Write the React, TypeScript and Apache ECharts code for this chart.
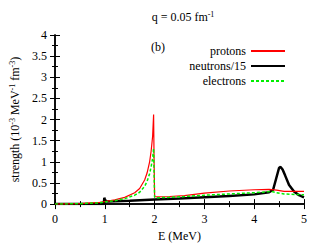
import React, { useEffect, useRef } from "react";
import * as echarts from "echarts";

const xTicks = [0, 1, 2, 3, 4, 5];
const protonsX = [0, 0.5, 0.9, 1.0, 1.2, 1.4, 1.6, 1.7, 1.8, 1.85, 1.9, 1.93, 1.96, 1.98, 1.99, 2.0, 2.05, 2.3, 2.6, 3.0, 3.5, 4.0, 4.3, 4.45, 4.6, 5.0];
const protonsY = [0, 0.01, 0.04, 0.06, 0.1, 0.16, 0.27, 0.37, 0.57, 0.74, 1.0, 1.25, 1.6, 2.12, 1.0, 0.18, 0.17, 0.18, 0.2, 0.26, 0.31, 0.34, 0.35, 0.33, 0.3, 0.3];
const electronsX = [0, 0.5, 0.9, 1.0, 1.2, 1.4, 1.6, 1.7, 1.8, 1.85, 1.9, 1.93, 1.96, 1.98, 1.99, 2.0, 2.05, 2.3, 2.6, 3.0, 3.5, 4.0, 4.35, 4.45, 4.6, 5.0];
const electronsY = [0, 0.01, 0.03, 0.05, 0.08, 0.13, 0.21, 0.28, 0.42, 0.54, 0.72, 0.88, 1.08, 1.32, 0.7, 0.16, 0.15, 0.16, 0.18, 0.21, 0.24, 0.27, 0.3, 0.27, 0.24, 0.22];
const neutronsX = [0, 0.98, 0.99, 1.0, 1.02, 1.05, 1.5, 2.0, 2.5, 3.0, 3.5, 4.0, 4.3, 4.38, 4.44, 4.5, 4.53, 4.57, 4.62, 4.7, 4.8, 4.9, 5.0];
const neutronsY = [0, 0, 0.15, 0.12, 0.07, 0.06, 0.08, 0.11, 0.13, 0.16, 0.19, 0.23, 0.28, 0.34, 0.6, 0.86, 0.88, 0.82, 0.68, 0.45, 0.3, 0.21, 0.16];

const pairs = (xs: number[], ys: number[]) => xs.map((x, i) => [x, ys[i]]);

const FONT = "'Liberation Serif', 'DejaVu Serif', serif";

export default function App() {
  const ref = useRef<HTMLDivElement>(null);
  useEffect(() => {
    const chart = echarts.init(ref.current!, undefined, { renderer: "svg" });
    const tickBase = {
      axisLine: { show: true, lineStyle: { color: "#000", width: 1.5 } },
      axisTick: { show: true, inside: true, length: 5, lineStyle: { color: "#000", width: 1 } },
      minorTick: { show: true, splitNumber: 2, length: 3, lineStyle: { color: "#000", width: 1 } },
      splitLine: { show: false },
    };
    const txt = { fontFamily: FONT, fontSize: 12, color: "#000", fontWeight: "normal" };
    const sup = { fontFamily: FONT, fontSize: 8, color: "#000", fontWeight: "normal", verticalAlign: "top", padding: [0, 0, 6, 0] };
    chart.setOption({
      animation: false,
      backgroundColor: "#fff",
      textStyle: { fontFamily: FONT },
      title: {
        text: "{a|q = 0.05 fm}{s|-1}",
        left: 178,
        top: 5,
        textAlign: "center",
        textStyle: { fontWeight: "normal", fontFamily: FONT, rich: { a: txt, s: sup } },
      },
      grid: { left: 52, right: 23, top: 35, bottom: 40 },
      legend: {
        orient: "vertical",
        right: 36,
        top: 40,
        align: "right",
        itemWidth: 34,
        itemHeight: 10,
        itemGap: 3,
        itemStyle: { opacity: 0 },
        textStyle: txt,
        data: ["protons", "neutrons/15", "electrons"],
      },
      graphic: [
        { type: "text", left: 151, top: 41, style: { text: "(b)", fontFamily: FONT, fontSize: 12, fill: "#000" } },
      ],
      xAxis: [
        {
          type: "value", min: 0, max: 5, interval: 1,
          name: "E (MeV)", nameLocation: "middle", nameGap: 25,
          nameTextStyle: txt,
          axisLabel: { ...txt, margin: 9, formatter: (v: number) => (xTicks.includes(v) ? String(v) : "") },
          ...tickBase,
        },
        {
          type: "value", min: 0, max: 5, interval: 1, position: "top",
          axisLabel: { show: false },
          ...tickBase,
        },
      ],
      yAxis: [
        {
          type: "value", min: 0, max: 4, interval: 0.5,
          name: "{a|strength (10}{s|-3}{a| MeV}{s|-1}{a| fm}{s|-3}{a|)}",
          nameLocation: "middle", nameGap: 33,
          nameTextStyle: { fontFamily: FONT, rich: { a: txt, s: sup } },
          axisLabel: { ...txt, margin: 8 },
          ...tickBase,
        },
        {
          type: "value", min: 0, max: 4, interval: 0.5, position: "right",
          axisLabel: { show: false },
          ...tickBase,
        },
      ],
      series: [
        {
          name: "protons", type: "line", symbol: "none", data: pairs(protonsX, protonsY),
          lineStyle: { color: "#ff0000", width: 1.2 }, itemStyle: { color: "#ff0000" }, z: 3,
        },
        {
          name: "neutrons/15", type: "line", symbol: "none", data: pairs(neutronsX, neutronsY),
          lineStyle: { color: "#000", width: 2.5 }, itemStyle: { color: "#000" }, z: 2,
        },
        {
          name: "electrons", type: "line", symbol: "none", data: pairs(electronsX, electronsY),
          lineStyle: { color: "#00ee00", width: 1.5, type: [3, 2] }, itemStyle: { color: "#00ee00" }, z: 4,
        },
      ],
    });
    return () => chart.dispose();
  }, []);
  return <div ref={ref} style={{ width: 327, height: 247, position: "absolute", left: 0, top: 0 }} />;
}
